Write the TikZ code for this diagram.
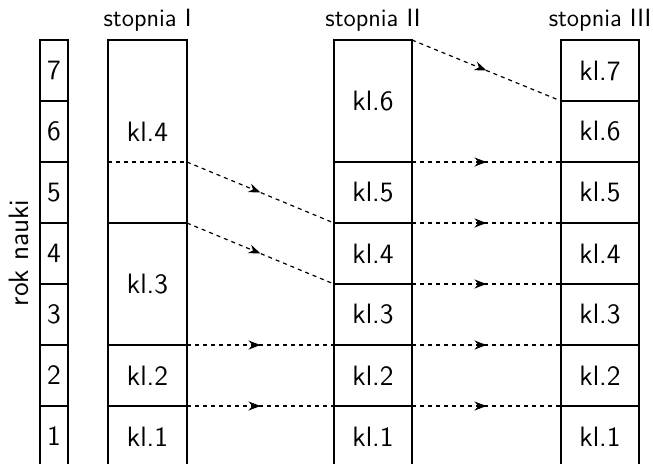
\documentclass[tikz,border=0pt]{standalone}
\usepackage{tikz}
\usetikzlibrary{arrows.meta,decorations.markings,positioning}

\tikzset{
  yearbox/.style={draw, line width=1.3pt, minimum width=14pt, minimum height=30.5pt,
    inner sep=0pt, outer sep=0pt, font=\sffamily\fontsize{14}{16}\selectfont},
  klbox/.style={draw, line width=1.3pt, minimum width=39pt, minimum height=30.5pt,
    inner sep=0pt, outer sep=0pt, font=\sffamily\fontsize{14}{16}\selectfont},
  head/.style={inner sep=0pt, font=\sffamily\fontsize{12.5}{14}\selectfont},
  flow/.style={line width=0.6pt, dash pattern=on 2pt off 2pt, postaction={decorate},
    decoration={markings, mark=at position 0.5 with {\arrow{Stealth[length=6pt,width=4.5pt]}}}},
}

\begin{document}
\begin{tikzpicture}[x=0.5pt, y=-0.5pt]
    \clip (0,0) rectangle (653,463);
    %% --- rok nauki ---
    \foreach \r in {1,...,7} {
      \node[yearbox] (y\r) at (54, {40+(7-\r)*61+30.5}) {\r};
    }
    \node[head, rotate=90, font=\sffamily\fontsize{14}{16}\selectfont] (rok) at (19,253) {rok nauki};
    %% --- stopnia I ---
    \node[klbox, minimum width=39.5pt, minimum height=91.5pt] (I4) at (147.5,131.5) {kl.4};
    \node[klbox, minimum width=39.5pt, minimum height=61pt] (I3) at (147.5,284) {kl.3};
    \node[klbox, minimum width=39.5pt] (I2) at (147.5,375.5) {kl.2};
    \node[klbox, minimum width=39.5pt] (I1) at (147.5,436.5) {kl.1};
    \coordinate (Isplit) at (I4.east |- y5.north);
    \draw[line width=0.6pt, dash pattern=on 2pt off 2pt] (I4.west |- Isplit) -- (Isplit);
    \node[head, above=4pt] (hI) at (I4.north) {stopnia I};
    %% --- stopnia II ---
    \node[klbox, minimum height=61pt] (II6) at (373,101) {kl.6};
    \foreach \r in {1,...,5} {
      \node[klbox] (II\r) at (373, {40+(7-\r)*61+30.5}) {kl.\r};
    }
    \node[head, above=4pt] (hII) at (II6.north) {stopnia II};
    %% --- stopnia III ---
    \foreach \r in {1,...,7} {
      \node[klbox] (III\r) at (600, {40+(7-\r)*61+30.5}) {kl.\r};
    }
    \node[head, above=4pt] (hIII) at (III7.north) {stopnia III};
    %% --- przejscia I -> II ---
    \draw[flow] (Isplit) -- (II5.south west);
    \draw[flow] (I4.south east) -- (II4.south west);
    \draw[flow] (I3.south east) -- (II3.south west);
    \draw[flow] (I2.south east) -- (II2.south west);
    %% --- przejscia II -> III ---
    \draw[flow] (II6.north east) -- (III7.south west);
    \draw[flow] (II5.north east) -- (III5.north west);
    \draw[flow] (II5.south east) -- (III5.south west);
    \draw[flow] (II4.south east) -- (III4.south west);
    \draw[flow] (II3.south east) -- (III3.south west);
    \draw[flow] (II2.south east) -- (III2.south west);
\end{tikzpicture}
\end{document}
